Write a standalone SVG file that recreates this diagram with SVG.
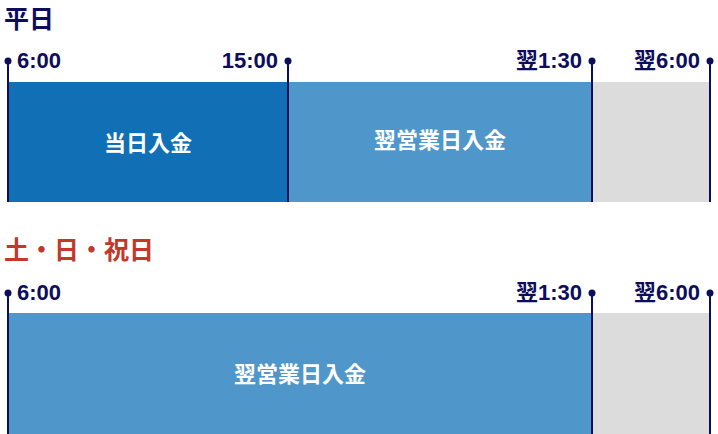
<svg xmlns="http://www.w3.org/2000/svg" width="718" height="434" viewBox="0 0 718 434">
<style>
.t{font-family:"Liberation Sans","Noto Sans CJK JP",sans-serif;font-weight:bold;font-size:22px;fill:#0d0d5e}
.h{font-family:"Noto Sans CJK JP",sans-serif;font-weight:bold;font-size:25px}
.w{font-family:"Noto Sans CJK JP",sans-serif;font-weight:bold;font-size:22px;fill:#fff}
.l{stroke:#0d0d5e;stroke-width:2}
.d{fill:#0d0d5e}
</style>
<g id="weekday">
<text class="h" x="4" y="28" fill="#0d0d5e">平日</text>
<rect x="8" y="82" width="280" height="120" fill="#1170b5"/>
<rect x="288" y="82" width="304" height="120" fill="#4f97cb"/>
<rect x="592" y="82" width="118" height="120" fill="#dcdcdc"/>
<text class="w" x="148" y="151" text-anchor="middle">当日入金</text>
<text class="w" x="440" y="148" text-anchor="middle">翌営業日入金</text>
<text class="t" x="17" y="68">6:00</text>
<text class="t" x="278" y="68" text-anchor="end">15:00</text>
<text class="t" x="582" y="68" text-anchor="end">翌1:30</text>
<text class="t" x="700" y="68" text-anchor="end">翌6:00</text>
</g>
<g id="holiday">
<text class="h" x="4" y="259" fill="#c0392b">土・日・祝日</text>
<rect x="8" y="313" width="584" height="121" fill="#4f97cb"/>
<rect x="592" y="313" width="118" height="121" fill="#dcdcdc"/>
<text class="w" x="300" y="382" text-anchor="middle">翌営業日入金</text>
<text class="t" x="17" y="300">6:00</text>
<text class="t" x="582" y="300" text-anchor="end">翌1:30</text>
<text class="t" x="700" y="300" text-anchor="end">翌6:00</text>
</g>
<g id="connectors">
<line class="l" x1="8" y1="61" x2="8" y2="202"/><circle class="d" cx="8" cy="61" r="3.5"/>
<line class="l" x1="288" y1="61" x2="288" y2="202"/><circle class="d" cx="288" cy="61" r="3.5"/>
<line class="l" x1="592" y1="61" x2="592" y2="202"/><circle class="d" cx="592" cy="61" r="3.5"/>
<line class="l" x1="710" y1="61" x2="710" y2="202"/><circle class="d" cx="710" cy="61" r="3.5"/>
<line class="l" x1="8" y1="293" x2="8" y2="434"/><circle class="d" cx="8" cy="293" r="3.5"/>
<line class="l" x1="592" y1="293" x2="592" y2="434"/><circle class="d" cx="592" cy="293" r="3.5"/>
<line class="l" x1="710" y1="293" x2="710" y2="434"/><circle class="d" cx="710" cy="293" r="3.5"/>
</g>
</svg>
